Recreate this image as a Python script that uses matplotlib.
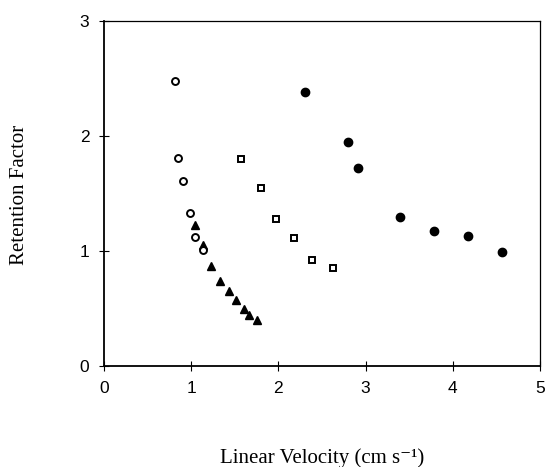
import matplotlib
matplotlib.use("Agg")
import matplotlib.pyplot as plt

# Data
open_circle_x = [0.81, 0.85, 0.91, 0.985, 1.04, 1.14]
open_circle_y = [2.48, 1.81, 1.61, 1.33, 1.12, 1.01]

triangle_x = [1.04, 1.14, 1.23, 1.33, 1.43, 1.51, 1.60, 1.66, 1.76]
triangle_y = [1.23, 1.05, 0.87, 0.74, 0.655, 0.57, 0.50, 0.44, 0.40]

square_x = [1.57, 1.795, 1.97, 2.18, 2.38, 2.63]
square_y = [1.80, 1.55, 1.28, 1.11, 0.92, 0.855]

filled_circle_x = [2.31, 2.80, 2.91, 3.39, 3.79, 4.18, 4.56]
filled_circle_y = [2.38, 1.95, 1.72, 1.30, 1.17, 1.13, 0.99]

x_ticks = [0, 1, 2, 3, 4, 5]
y_ticks = [0, 1, 2, 3]

fig = plt.figure(figsize=(5.45, 4.67), dpi=100)
ax = fig.add_axes([104/545, 1-366/467, 436/545, 345/467])

ax.plot(triangle_x, triangle_y, linestyle='none', marker='^', markersize=5.5,
        color='black', markerfacecolor='black')
ax.plot(open_circle_x, open_circle_y, linestyle='none', marker='o', markersize=5,
        markerfacecolor='white', markeredgecolor='black', markeredgewidth=1.4)
ax.plot(square_x, square_y, linestyle='none', marker='s', markersize=5,
        markerfacecolor='white', markeredgecolor='black', markeredgewidth=1.4)
ax.plot(filled_circle_x, filled_circle_y, linestyle='none', marker='o', markersize=6,
        color='black')

ax.set_xlim(0, 5)
ax.set_ylim(0, 3)
ax.set_xticks(x_ticks)
ax.set_yticks(y_ticks)
ax.set_xticklabels([str(v) for v in x_ticks], fontfamily='Liberation Sans', fontsize=12.5)
ax.set_yticklabels([str(v) for v in y_ticks], fontfamily='Liberation Sans', fontsize=12.5)
ax.tick_params(direction='inout', length=7, width=0.8, colors='black')
ax.tick_params(axis='x', pad=7)
ax.tick_params(axis='y', pad=7)

for side in ['left', 'bottom']:
    ax.spines[side].set_linewidth(1.3)
for side in ['top', 'right']:
    ax.spines[side].set_linewidth(0.9)

fig.text(322/545, 1-458/467, 'Linear Velocity (cm s\u207b\u00b9)',
         family=['Liberation Serif', 'DejaVu Serif'], fontsize=15,
         ha='center', va='center')
fig.text(20/545, 1-195/467, 'Retention Factor',
         family=['Liberation Serif', 'DejaVu Serif'], fontsize=15,
         ha='center', va='center', rotation=90)

fig.savefig('out.png', dpi=100)
